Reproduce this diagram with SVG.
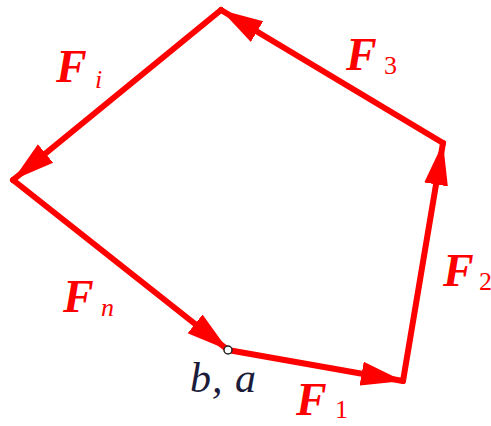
<svg xmlns="http://www.w3.org/2000/svg" width="491" height="426" viewBox="0 0 491 426">
<style>
.force{fill:none;stroke:#ff0000;stroke-width:6;stroke-linecap:round;stroke-linejoin:round;marker-end:url(#ah)}
.F{font-family:"Liberation Serif","Times New Roman",serif;font-style:italic;font-weight:bold;font-size:46px;fill:#ff0000}
.subi{font-family:"Liberation Serif","Times New Roman",serif;font-style:italic;font-size:26px;fill:#ff0000}
.subd{font-family:"Liberation Serif","Times New Roman",serif;font-size:26px;fill:#ff0000}
.pt{font-family:"Liberation Serif","Times New Roman",serif;font-style:italic;font-size:42px;letter-spacing:1px;fill:#1b1b3a}
</style>
<defs>
<marker id="ah" markerUnits="userSpaceOnUse" markerWidth="46" markerHeight="26" refX="42" refY="13" orient="auto">
<path d="M0,1 L42,13 L0,25 z" fill="#ff0000"/>
</marker>
</defs>
<g id="connectors">
<path id="F1" class="force" d="M228,350 L403,381"/>
<path id="F2" class="force" d="M403,381 L443,143"/>
<path id="F3" class="force" d="M443,143 L221,10"/>
<path id="Fi" class="force" d="M221,10 L13,180"/>
<path id="Fn" class="force" d="M13,180 L228,350"/>
</g>
<g id="point-ba">
<circle cx="228" cy="350" r="4" fill="#ffffff" stroke="#222222" stroke-width="1.5"/>
<text class="pt" x="190" y="392">b, a</text>
</g>
<g id="label-F1"><text class="F" x="296" y="415">F</text><text class="subd" x="335" y="418">1</text></g>
<g id="label-F2"><text class="F" x="443" y="286">F</text><text class="subd" x="479" y="290">2</text></g>
<g id="label-F3"><text class="F" x="346" y="70">F</text><text class="subd" x="384" y="74">3</text></g>
<g id="label-Fi"><text class="F" x="56" y="82">F</text><text class="subi" x="95" y="88">i</text></g>
<g id="label-Fn"><text class="F" x="63" y="312">F</text><text class="subi" x="101" y="316">n</text></g>
</svg>
